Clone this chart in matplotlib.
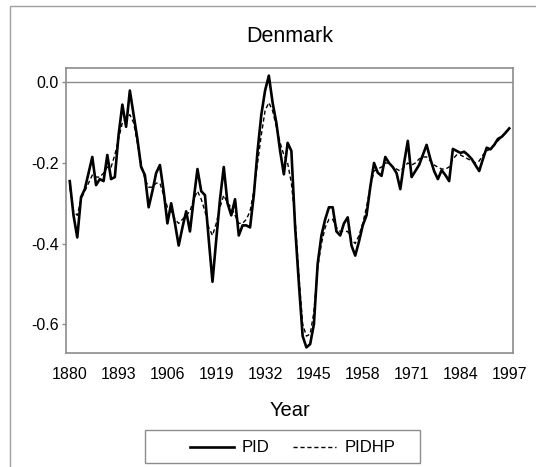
import matplotlib
matplotlib.use("Agg")
import matplotlib.pyplot as plt
from matplotlib.patches import Rectangle
from matplotlib.lines import Line2D

plt.rcParams['font.family'] = ['Liberation Sans', 'DejaVu Sans']

# data
years = list(range(1880, 1998))
pid = [
    -0.245, -0.33, -0.385, -0.285, -0.265, -0.225, -0.185, -0.255, -0.24, -0.245,   # 1880s
    -0.18, -0.24, -0.235, -0.13, -0.055, -0.11, -0.02, -0.08, -0.14, -0.21,         # 1890s
    -0.23, -0.31, -0.27, -0.225, -0.205, -0.27, -0.35, -0.3, -0.35, -0.405,         # 1900s
    -0.36, -0.32, -0.37, -0.29, -0.215, -0.27, -0.28, -0.39, -0.495, -0.39,         # 1910s
    -0.29, -0.21, -0.3, -0.33, -0.29, -0.38, -0.355, -0.355, -0.36, -0.28,          # 1920s
    -0.17, -0.08, -0.02, 0.017, -0.05, -0.1, -0.17, -0.228, -0.15, -0.17,           # 1930s
    -0.36, -0.5, -0.63, -0.658, -0.65, -0.6, -0.45, -0.38, -0.34, -0.31,            # 1940s
    -0.31, -0.37, -0.38, -0.35, -0.335, -0.405, -0.43, -0.395, -0.355, -0.33,       # 1950s
    -0.26, -0.2, -0.224, -0.232, -0.185, -0.2, -0.21, -0.225, -0.265, -0.2,         # 1960s
    -0.145, -0.235, -0.22, -0.205, -0.18, -0.155, -0.19, -0.22, -0.24, -0.218,      # 1970s
    -0.23, -0.245, -0.165, -0.17, -0.175, -0.172, -0.18, -0.19, -0.205, -0.22,      # 1980s
    -0.19, -0.162, -0.166, -0.155, -0.14, -0.135, -0.125, -0.114,                   # 1990s
]
pidhp = [
    -0.26, -0.32, -0.33, -0.29, -0.27, -0.25, -0.23, -0.235, -0.235, -0.225,
    -0.21, -0.21, -0.18, -0.14, -0.1, -0.09, -0.08, -0.1, -0.15, -0.2,
    -0.24, -0.26, -0.26, -0.25, -0.25, -0.28, -0.31, -0.32, -0.34, -0.35,
    -0.34, -0.33, -0.32, -0.29, -0.27, -0.29, -0.32, -0.36, -0.38, -0.35,
    -0.31, -0.28, -0.3, -0.31, -0.33, -0.35, -0.35, -0.34, -0.32, -0.27,
    -0.2, -0.13, -0.07, -0.05, -0.07, -0.11, -0.15, -0.18, -0.2, -0.25,
    -0.34, -0.48, -0.6, -0.63, -0.625, -0.57, -0.46, -0.4, -0.36, -0.34,
    -0.34, -0.36, -0.37, -0.37, -0.37, -0.39, -0.4, -0.38, -0.35, -0.31,
    -0.26, -0.22, -0.215, -0.21, -0.2, -0.2, -0.21, -0.215, -0.22, -0.21,
    -0.2, -0.205, -0.2, -0.19, -0.185, -0.185, -0.195, -0.205, -0.21, -0.215,
    -0.215, -0.21, -0.19, -0.18, -0.18, -0.185, -0.19, -0.195, -0.2, -0.195,
    -0.18, -0.17, -0.165, -0.155, -0.145, -0.135, -0.125, -0.115,
]
xticks = [1880, 1893, 1906, 1919, 1932, 1945, 1958, 1971, 1984, 1997]
yticks = [0.0, -0.2, -0.4, -0.6]

fig = plt.figure(figsize=(5.36, 4.67), dpi=100)
ax = fig.add_axes([66 / 536, 1 - 353 / 467, 447 / 536, 285 / 467])

grey = '#8c8c8c'
# outer frame of the figure (only top and left show in the crop)
fig.patches.append(Rectangle((10 / 536, -0.1), 1.2, 1 - 6 / 467 + 0.1,
                             transform=fig.transFigure, fill=False,
                             edgecolor='#a0a0a0', linewidth=1.0))

ax.axhline(0, color=grey, linewidth=1.0, zorder=1)
ax.plot(years, pid, color='black', linewidth=1.9, solid_joinstyle='round', zorder=3)
ax.plot(years, pidhp, color='black', linewidth=1.0, linestyle=(0, (3, 2)), zorder=2)

ax.set_xlim(1879.0, 1998.0)
ax.set_ylim(-0.672, 0.036)
ax.set_xticks(xticks)
ax.set_yticks(yticks)
ax.set_yticklabels(['0.0', '-0.2', '-0.4', '-0.6'])
ax.tick_params(axis='x', length=0, pad=10, labelsize=11.5)
ax.tick_params(axis='y', length=3, pad=2, labelsize=11.5, color=grey, width=1.0)
for s in ax.spines.values():
    s.set_color(grey)
    s.set_linewidth(1.2)

ax.set_title('Denmark', fontsize=15.5, pad=19)
ax.set_xlabel('Year', fontsize=14.5, labelpad=14)

# legend box below the axes
fig.patches.append(Rectangle((145 / 536, 1 - 463 / 467), 275 / 536, 33 / 467,
                             transform=fig.transFigure, fill=False,
                             edgecolor=grey, linewidth=1.0))
handles = [Line2D([], [], color='black', linewidth=1.9),
           Line2D([], [], color='black', linewidth=1.0, linestyle=(0, (3, 2)))]
fig.legend(handles, ['PID', 'PIDHP'], loc='center', ncol=2,
           bbox_to_anchor=(293 / 536, 1 - 448 / 467), frameon=False,
           fontsize=12, handlelength=2.6, columnspacing=1.4, handletextpad=0.5)

fig.savefig('out.png', dpi=100)
